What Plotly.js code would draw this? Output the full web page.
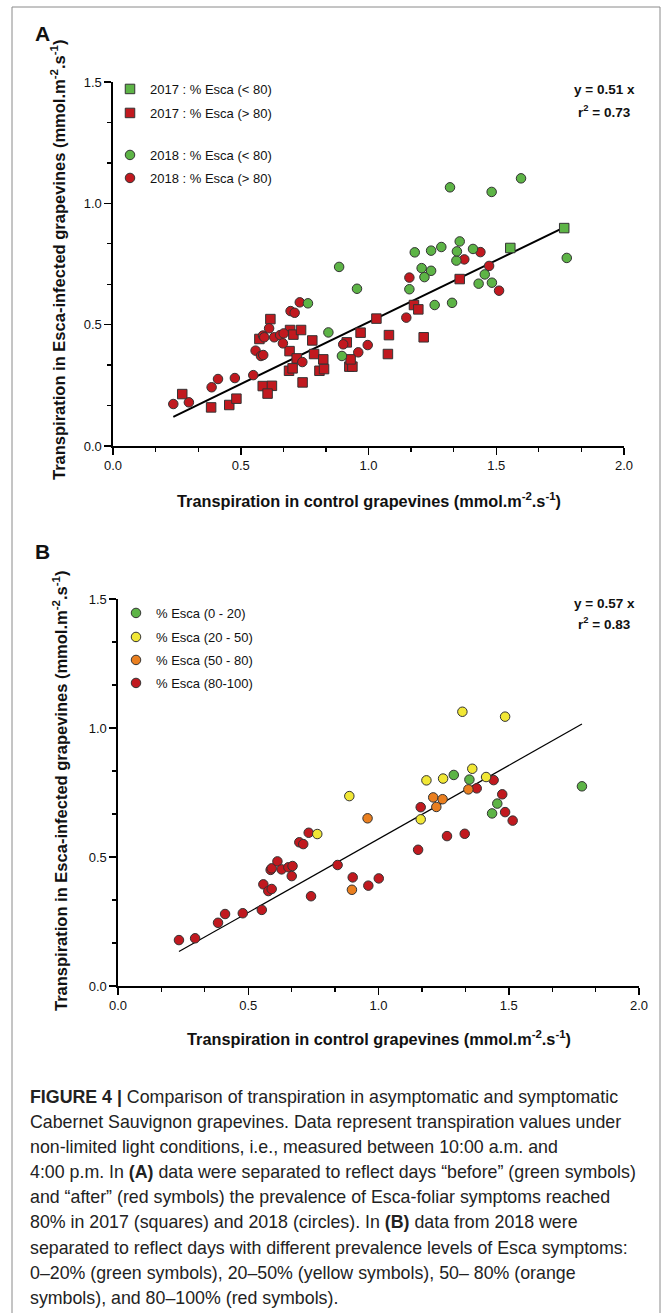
<!DOCTYPE html>
<html>
<head>
<meta charset="utf-8">
<script src="https://cdn.plot.ly/plotly-3.0.1.min.js"></script>
<style>
html,body{margin:0;padding:0;background:#fff;}
#chart{width:669px;height:1313px;}
</style>
</head>
<body>
<div id="chart"></div>
<script>
// ---------- Panel A data ----------
const legendA = ["2017 : % Esca (< 80)", "2017 : % Esca (> 80)", "2018 : % Esca (< 80)", "2018 : % Esca (> 80)"];
const a2017LowX = [1.555, 1.766];
const a2017LowY = [0.816, 0.898];
const a2017HighX = [0.271, 0.384, 0.455, 0.483, 0.586, 0.622, 0.605, 0.616, 0.573, 0.693, 0.706, 0.736, 0.691, 0.780, 0.787, 0.823, 0.719, 0.689, 0.703, 0.808, 0.826, 0.742, 0.915, 0.969, 0.925, 0.937, 0.930, 1.031, 1.080, 1.076, 1.178, 1.195, 1.216, 1.357];
const a2017HighY = [0.214, 0.159, 0.169, 0.195, 0.247, 0.248, 0.216, 0.523, 0.441, 0.478, 0.459, 0.478, 0.391, 0.435, 0.379, 0.357, 0.361, 0.310, 0.320, 0.310, 0.317, 0.262, 0.427, 0.467, 0.327, 0.327, 0.357, 0.525, 0.457, 0.379, 0.581, 0.563, 0.448, 0.688];
const a2018LowX = [0.763, 0.843, 0.885, 0.896, 0.955, 1.160, 1.181, 1.208, 1.219, 1.245, 1.245, 1.259, 1.285, 1.319, 1.327, 1.344, 1.346, 1.357, 1.409, 1.431, 1.455, 1.482, 1.483, 1.597, 1.776];
const a2018LowY = [0.588, 0.468, 0.738, 0.371, 0.648, 0.646, 0.798, 0.733, 0.696, 0.722, 0.805, 0.581, 0.820, 1.066, 0.590, 0.764, 0.802, 0.843, 0.812, 0.669, 0.707, 1.047, 0.673, 1.103, 0.775];
const a2018HighX = [0.236, 0.297, 0.386, 0.411, 0.477, 0.549, 0.558, 0.579, 0.588, 0.587, 0.592, 0.611, 0.631, 0.654, 0.668, 0.665, 0.695, 0.711, 0.731, 0.741, 0.901, 0.960, 0.997, 1.148, 1.160, 1.375, 1.438, 1.472, 1.511];
const a2018HighY = [0.173, 0.180, 0.242, 0.276, 0.280, 0.292, 0.393, 0.371, 0.375, 0.455, 0.448, 0.485, 0.448, 0.457, 0.464, 0.423, 0.556, 0.549, 0.592, 0.346, 0.419, 0.386, 0.416, 0.529, 0.694, 0.769, 0.799, 0.742, 0.640];
const slopeA = 0.51;
const fitTextA = ["y = 0.51 x", "r<sup>2</sup> = 0.73"];

// ---------- Panel B data ----------
const legendB = ["% Esca (0 - 20)", "% Esca (20 - 50)", "% Esca (50 - 80)", "% Esca (80-100)"];
const bGreenX = [1.289, 1.349, 1.456, 1.436, 1.781];
const bGreenY = [0.818, 0.800, 0.707, 0.669, 0.774];
const bYellowX = [0.765, 0.888, 1.162, 1.184, 1.248, 1.322, 1.360, 1.413, 1.486];
const bYellowY = [0.589, 0.736, 0.646, 0.797, 0.804, 1.063, 0.842, 0.810, 1.044];
const bOrangeX = [0.898, 0.958, 1.210, 1.222, 1.246, 1.345];
const bOrangeY = [0.373, 0.650, 0.731, 0.694, 0.724, 0.762];
const bRedX = [0.234, 0.296, 0.384, 0.411, 0.479, 0.552, 0.558, 0.577, 0.590, 0.586, 0.590, 0.612, 0.628, 0.654, 0.670, 0.667, 0.696, 0.711, 0.732, 0.741, 0.843, 0.901, 0.961, 1.001, 1.152, 1.162, 1.263, 1.331, 1.377, 1.442, 1.475, 1.486, 1.515];
const bRedY = [0.178, 0.185, 0.245, 0.279, 0.282, 0.295, 0.394, 0.368, 0.376, 0.450, 0.456, 0.483, 0.452, 0.460, 0.465, 0.426, 0.557, 0.550, 0.594, 0.348, 0.469, 0.421, 0.389, 0.417, 0.528, 0.693, 0.581, 0.590, 0.766, 0.798, 0.743, 0.674, 0.641];
const slopeB = 0.57;
const fitTextB = ["y = 0.57 x", "r<sup>2</sup> = 0.83"];

// ---------- Shared text ----------
const xTitle = "Transpiration in control grapevines (mmol.m<sup>-2</sup>.s<sup>-1</sup>)";
const yTitle = "Transpiration in Esca-infected grapevines (mmol.m<sup>-2</sup>.s<sup>-1</sup>)";
const captionLines = [
  "<b>FIGURE 4 |</b> Comparison of transpiration in asymptomatic and symptomatic",
  "Cabernet Sauvignon grapevines. Data represent transpiration values under",
  "non-limited light conditions, i.e., measured between 10:00 a.m. and",
  "4:00 p.m. In <b>(A)</b> data were separated to reflect days “before” (green symbols)",
  "and “after” (red symbols) the prevalence of Esca-foliar symptoms reached",
  "80% in 2017 (squares) and 2018 (circles). In <b>(B)</b> data from 2018 were",
  "separated to reflect days with different prevalence levels of Esca symptoms:",
  "0–20% (green symbols), 20–50% (yellow symbols), 50– 80% (orange",
  "symbols), and 80–100% (red symbols)."
];

// ---------- Styling ----------
const W = 669, H = 1313;
const GREEN = "#5db446", RED = "#c1191f", YELLOW = "#f1e735", ORANGE = "#ea7f1f";
const FONT = "Liberation Sans, Arial, sans-serif";
const px = v => v / W;
const py = v => 1 - v / H;

function mk(color, symbol) {
  return {color: color, size: 9.5, symbol: symbol, line: {color: "#333", width: 1}};
}
function range(arrs) {
  let all = [].concat(...arrs);
  return [Math.min(...all), Math.max(...all)];
}

const rA = range([a2017LowX, a2017HighX, a2018LowX, a2018HighX]);
const rB = range([bGreenX, bYellowX, bOrangeX, bRedX]);

const traces = [
  {x: [rA[0], rA[1]], y: [slopeA * rA[0], slopeA * rA[1]], mode: "lines", line: {color: "#000", width: 2}, xaxis: "x", yaxis: "y", showlegend: false, hoverinfo: "skip"},
  {x: a2017HighX, y: a2017HighY, mode: "markers", name: legendA[1], marker: mk(RED, "square"), xaxis: "x", yaxis: "y", legend: "legend2", cliponaxis: false},
  {x: a2018HighX, y: a2018HighY, mode: "markers", name: legendA[3], marker: mk(RED, "circle"), xaxis: "x", yaxis: "y", legend: "legend4", cliponaxis: false},
  {x: a2018LowX, y: a2018LowY, mode: "markers", name: legendA[2], marker: mk(GREEN, "circle"), xaxis: "x", yaxis: "y", legend: "legend3", cliponaxis: false},
  {x: a2017LowX, y: a2017LowY, mode: "markers", name: legendA[0], marker: mk(GREEN, "square"), xaxis: "x", yaxis: "y", legend: "legend", cliponaxis: false},

  {x: [rB[0], rB[1]], y: [slopeB * rB[0], slopeB * rB[1]], mode: "lines", line: {color: "#000", width: 1.2}, xaxis: "x2", yaxis: "y2", showlegend: false, hoverinfo: "skip"},
  {x: bRedX, y: bRedY, mode: "markers", name: legendB[3], marker: mk(RED, "circle"), xaxis: "x2", yaxis: "y2", legend: "legend8", cliponaxis: false},
  {x: bOrangeX, y: bOrangeY, mode: "markers", name: legendB[2], marker: mk(ORANGE, "circle"), xaxis: "x2", yaxis: "y2", legend: "legend7", cliponaxis: false},
  {x: bYellowX, y: bYellowY, mode: "markers", name: legendB[1], marker: mk(YELLOW, "circle"), xaxis: "x2", yaxis: "y2", legend: "legend6", cliponaxis: false},
  {x: bGreenX, y: bGreenY, mode: "markers", name: legendB[0], marker: mk(GREEN, "circle"), xaxis: "x2", yaxis: "y2", legend: "legend5", cliponaxis: false}
];

function axis(domain, anchor, rng) {
  return {
    domain: domain, anchor: anchor, range: rng,
    showline: true, linecolor: "#000", linewidth: 1.6,
    ticks: "outside", ticklen: 7, tickwidth: 1.5, tickcolor: "#000",
    tick0: 0, dtick: 0.5, tickformat: ".1f",
    minor: {tick0: 0, dtick: 0.5 / 3, ticks: "outside", ticklen: 4, tickwidth: 1.3, tickcolor: "#000", showgrid: false},
    showgrid: false, zeroline: false, fixedrange: true,
    tickfont: {family: FONT, size: 13, color: "#111"}
  };
}

function leg(xc, yc) {
  return {x: px(xc - 20), y: py(yc), xanchor: "left", yanchor: "middle", xref: "paper", yref: "paper",
          bgcolor: "rgba(0,0,0,0)", borderwidth: 0, font: {family: FONT, size: 13, color: "#111"}};
}

const ann = [];
function addText(text, x, y, size, opts) {
  ann.push(Object.assign({text: text, x: px(x), y: py(y), xref: "paper", yref: "paper", showarrow: false,
    xanchor: "center", yanchor: "middle", font: {family: FONT, size: size, color: "#111"}}, opts || {}));
}
addText("<b>A</b>", 42, 34, 21);
addText("<b>B</b>", 42, 551, 21);
addText("<b>" + fitTextA[0] + "</b>", 604, 90, 13.5);
addText("<b>" + fitTextA[1] + "</b>", 604, 111, 13.5);
addText("<b>" + fitTextB[0] + "</b>", 604, 603, 13.5);
addText("<b>" + fitTextB[1] + "</b>", 604, 623, 13.5);
addText("<b>" + xTitle + "</b>", 369, 500, 16.3);
addText("<b>" + xTitle + "</b>", 379, 1038, 16.3);
addText("<b>" + yTitle + "</b>", 58, 260, 16.5, {textangle: -90});
addText("<b>" + yTitle + "</b>", 60, 791, 16.5, {textangle: -90});
const capY = [1097, 1122, 1147, 1172, 1197, 1222, 1248, 1273, 1298];
captionLines.forEach((t, i) => {
  ann.push({text: t, x: px(28), y: py(capY[i]), xref: "paper", yref: "paper", showarrow: false,
    xanchor: "left", yanchor: "middle", align: "left",
    font: {family: FONT, size: 17.8, color: "#222"}});
});

const layout = {
  width: W, height: H,
  margin: {l: 0, r: 0, t: 0, b: 0},
  paper_bgcolor: "#fff", plot_bgcolor: "rgba(0,0,0,0)",
  font: {family: FONT, color: "#111"},
  xaxis: axis([px(113), px(624)], "y", [0, 2]),
  yaxis: axis([py(446), py(82)], "x", [0, 1.5]),
  xaxis2: axis([px(118), px(639)], "y2", [0, 2]),
  yaxis2: axis([py(986), py(599)], "x2", [0, 1.5]),
  legend: leg(130, 89),
  legend2: leg(130, 113),
  legend3: leg(130, 155),
  legend4: leg(130, 178),
  legend5: leg(136, 613),
  legend6: leg(136, 637),
  legend7: leg(136, 660),
  legend8: leg(136, 683),
  annotations: ann,
  shapes: [{type: "rect", xref: "paper", yref: "paper", x0: px(12), x1: px(660), y0: -0.02, y1: py(7),
            line: {color: "#8a8a8a", width: 1}, fillcolor: "rgba(0,0,0,0)"}]
};

Plotly.newPlot("chart", traces, layout, {displayModeBar: false, staticPlot: true});
</script>
</body>
</html>
